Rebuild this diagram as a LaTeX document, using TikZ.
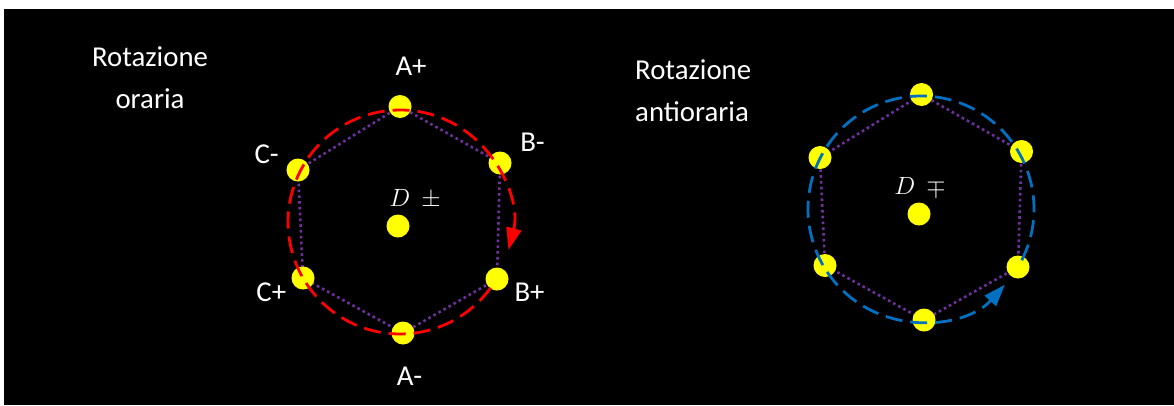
\documentclass[tikz,border=0pt]{standalone}
\usepackage{fontspec}
\setmainfont{Carlito}
\usetikzlibrary{arrows.meta,backgrounds,calc}
\definecolor{hexpurple}{RGB}{112,48,160}
\definecolor{arcblue}{RGB}{0,112,192}
\definecolor{arcred}{RGB}{255,0,0}
\definecolor{poleyellow}{RGB}{255,255,0}
\begin{document}
\begin{tikzpicture}[x=1pt,y=-1pt,
  pole/.style={circle, fill=poleyellow, minimum size=23pt, inner sep=0pt},
  lbl/.style={text=white, inner sep=0pt, anchor=base, font=\fontsize{28.8}{41.8}\selectfont},
  mlbl/.style={text=white, inner sep=0pt, anchor=base, font=\fontsize{29}{32}\selectfont},
  hexedge/.style={hexpurple, line width=2.6pt, dash pattern=on 2.6pt off 3.2pt},
  rotarc/.style={line width=2.8pt, dash pattern=on 17pt off 8pt}]
\useasboundingbox (0,0) rectangle (1174,405);
% left poles
\node[pole] (ap) at (400,106.5) {};
\node[pole] (bm) at (500,163) {};
\node[pole] (bp) at (497,279) {};
\node[pole] (am) at (403,333) {};
\node[pole] (cp) at (303,278) {};
\node[pole] (cm) at (298,170) {};
\node[pole] (d1) at (398,226) {};
% right poles
\node[pole] (r1) at (921.5,94.5) {};
\node[pole] (r2) at (1021.5,151.5) {};
\node[pole] (r3) at (1018,267) {};
\node[pole] (r4) at (924,320) {};
\node[pole] (r5) at (825,265.5) {};
\node[pole] (r6) at (820,157.5) {};
\node[pole] (d2) at (919,214) {};
\begin{scope}[on background layer]
\fill[white] (0,0) rectangle (1174,405);
\fill[black] (4,9) rectangle (1174,405);
\draw[hexedge] (ap.center) -- (bm.center) -- (bp.center) -- (am.center) -- (cp.center) -- (cm.center) -- cycle;
\draw[hexedge] (r1.center) -- (r2.center) -- (r3.center) -- (r4.center) -- (r5.center) -- (r6.center) -- cycle;
\end{scope}
% rotation arcs
\coordinate (c1) at (400,222);
\coordinate (c2) at (921,209);
\draw[arcred, rotarc, -{Triangle[length=22pt,width=15pt]}]
  ($(c1)+(36:112)$) arc[start angle=36, end angle=374.4, radius=112];
\draw[arcblue, rotarc, -{Triangle[length=22pt,width=15pt]}]
  ($(c2)+(27:113)$) arc[start angle=27, end angle=-318, radius=113];
% labels
\node[lbl] (tA) at (411,75) {A+};
\node[lbl] (tBm) at (532.5,151.7) {B-};
\node[lbl] (tBp) at (529.5,301.7) {B+};
\node[lbl] (tAm) at (409.5,385) {A-};
\node[lbl] (tCp) at (271.3,301.7) {C+};
\node[lbl] (tCm) at (266.7,163.3) {C-};
\node[mlbl] (tD1) at (415,206.7) {$D\hspace{11pt}\pm$};
\node[mlbl] (tD2) at (920,194.3) {$D\hspace{11pt}\mp$};
\node[lbl, align=center] (tL) at (150,108.3) {Rotazione\\oraria};
\node[lbl, align=left, anchor=base west] (tR) at (635,121.7) {Rotazione\\antioraria};
\end{tikzpicture}
\end{document}
